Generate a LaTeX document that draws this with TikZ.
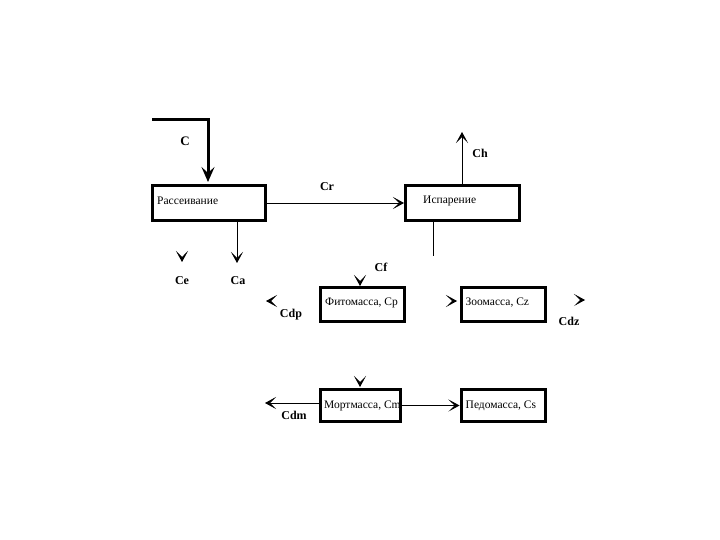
\documentclass[tikz,border=0pt]{standalone}
\usepackage{fontspec}
\setmainfont{Liberation Serif}
\usetikzlibrary{arrows.meta,calc}
\begin{document}
\begin{tikzpicture}[x=1pt,y=-1pt,
  box/.style={draw, line width=3pt, rectangle, inner sep=0pt},
  txt/.style={anchor=west, inner sep=0pt, font=\fontsize{11.5}{13}\selectfont},
  lbl/.style={inner sep=0pt, font=\bfseries\fontsize{12}{14}\selectfont},
  flow/.style={line width=0.8pt, -{Stealth[length=11pt,width=12pt,inset=6pt]}},
  plain/.style={line width=0.8pt},
  bigflow/.style={line width=3pt, -{Stealth[length=15pt,width=13pt,inset=6pt]}}]
\useasboundingbox[fill=white] (0,0) rectangle (720,540);

% boxes
\node[box, minimum width=113pt, minimum height=35pt] (ras) at (209,203) {};
\node[txt] (rast) at ([xshift=6pt,yshift=2pt]ras.west) {Рассеивание};
\node[box, minimum width=114pt, minimum height=35pt] (isp) at (462.5,203) {};
\node[txt] (ispt) at ([xshift=19pt,yshift=2pt]isp.west) {Испарение};
\node[box, minimum width=84pt, minimum height=34pt] (fit) at (362.5,304.5) {};
\node[txt] (fitt) at ([xshift=6pt,yshift=2pt]fit.west) {Фитомасса, Cp};
\node[box, minimum width=84pt, minimum height=34pt] (zoo) at (503,304.5) {};
\node[txt] (zoot) at ([xshift=6pt,yshift=2pt]zoo.west) {Зоомасса, Cz};
\node[box, minimum width=80pt, minimum height=32pt] (mor) at (360.5,405.5) {};
\node[box, minimum width=84pt, minimum height=32pt] (ped) at (503,405.5) {};
\node[txt] (pedt) at ([xshift=6pt,yshift=0pt]ped.west) {Педомасса, Cs};

% coordinates
\coordinate (cstart) at (152,120);
\coordinate (cin) at (208,182);
\coordinate (chtop) at (462,132);
\coordinate (catip) at (237,263);
\coordinate (ispline) at (433,256);
\coordinate (cetip) at (182,262);
\coordinate (cftip) at (360,286);
\coordinate (cdptip) at (266,301);
\coordinate (zootip) at (457,301);
\coordinate (cdztip) at (585,300);
\coordinate (mortip) at (360,387);
\coordinate (cdmtip) at (265,403);

% connectors
\draw[bigflow] (cstart) -| (cin);
\draw[flow] (ras.east) -- (isp.west);
\draw[flow] (chtop |- isp.north) -- (chtop);
\draw[flow] (catip |- ras.south) -- (catip);
\draw[plain] (ispline |- isp.south) -- (ispline);
\draw[flow] (mor.west |- cdmtip) -- (cdmtip);
\draw[flow] (mor.east) -- (ped.west);
\node[txt] (mort) at ([xshift=5pt,yshift=0pt]mor.west) {Мортмасса, Cm};

% lone arrowheads
\draw[flow] ($(cetip)+(0,-1)$) -- (cetip);
\draw[flow] ($(cftip)+(0,-1)$) -- (cftip);
\draw[flow] ($(mortip)+(0,-1)$) -- (mortip);
\draw[flow] ($(cdptip)+(1,0)$) -- (cdptip);
\draw[flow] ($(zootip)+(-1,0)$) -- (zootip);
\draw[flow] ($(cdztip)+(-1,0)$) -- (cdztip);

% labels
\node[lbl, font=\bfseries\fontsize{13}{15}\selectfont] (lc) at (185,141) {C};
\node[lbl] (lch) at (480,153) {Ch};
\node[lbl] (lcr) at (327,187) {Cr};
\node[lbl] (lce) at (182,281) {Ce};
\node[lbl] (lca) at (238,281) {Ca};
\node[lbl] (lcf) at (381,267) {Cf};
\node[lbl] (lcdp) at (291,315) {Cdp};
\node[lbl] (lcdz) at (569,321) {Cdz};
\node[lbl] (lcdm) at (294,415) {Cdm};
\end{tikzpicture}
\end{document}
